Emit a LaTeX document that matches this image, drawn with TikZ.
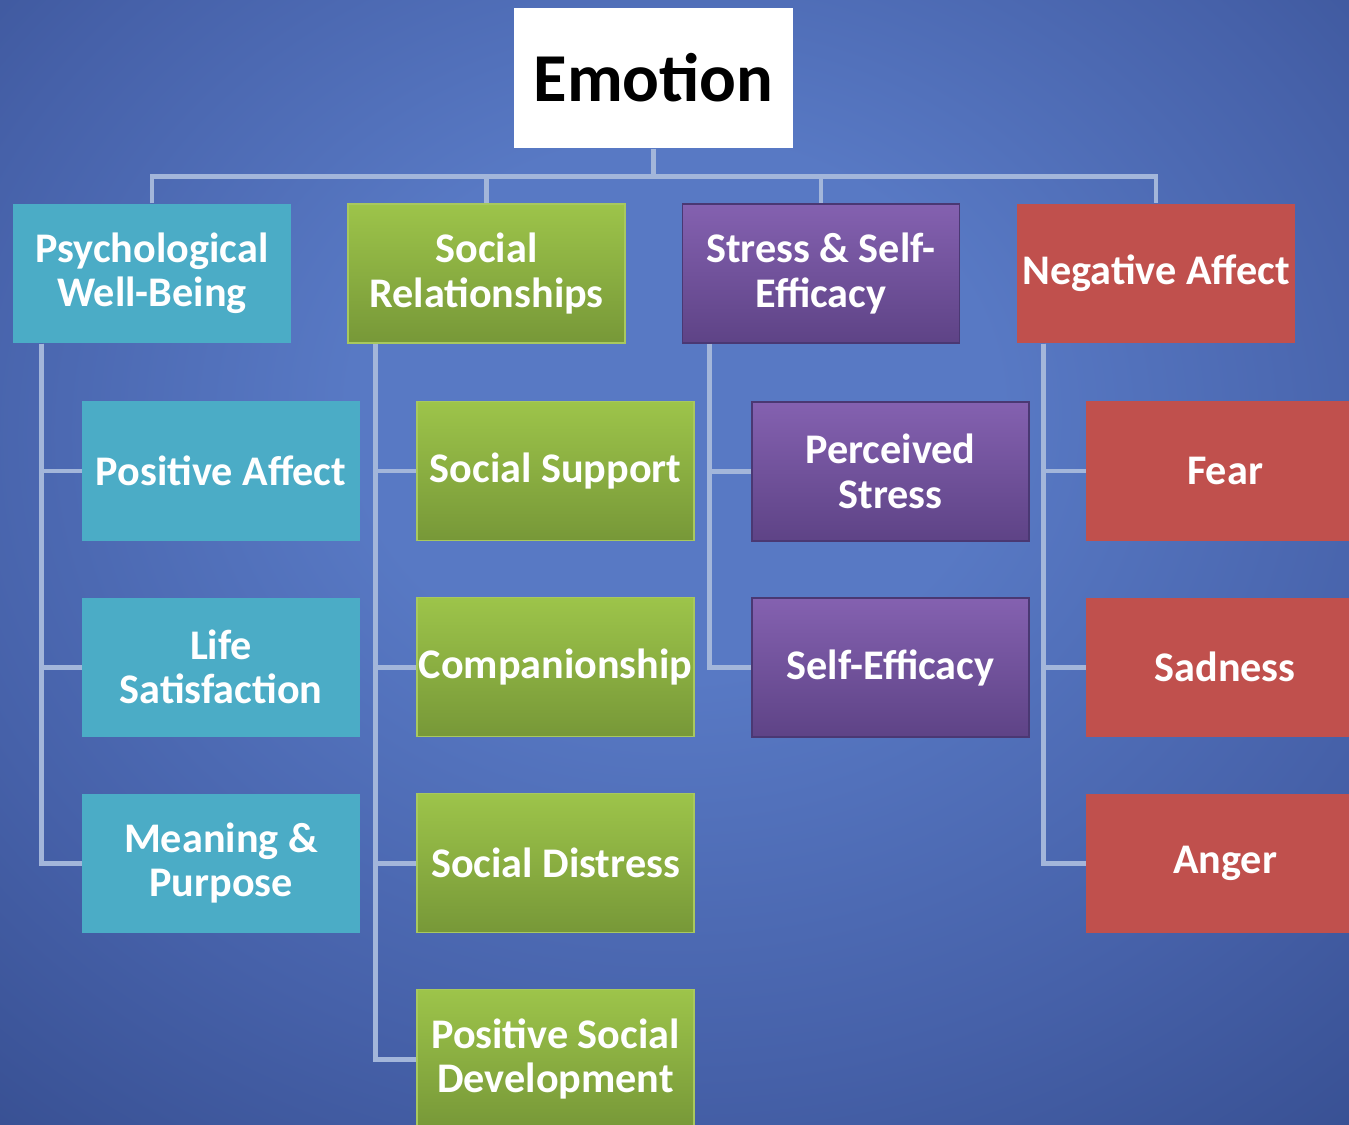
\documentclass[tikz,border=0pt]{standalone}
\usepackage{fontspec}
\setmainfont{Carlito}
\usetikzlibrary{positioning}

\definecolor{bgInner}{HTML}{5879C4}
\definecolor{bgMid}{HTML}{4661A9}
\definecolor{bgOuter}{HTML}{253975}
\definecolor{linkBlue}{HTML}{A3B6DA}
\definecolor{pwbTeal}{HTML}{4BACC6}
\definecolor{srTop}{HTML}{9DC44A}
\definecolor{srBottom}{HTML}{779838}
\definecolor{srEdge}{HTML}{A8C85E}
\definecolor{sseTop}{HTML}{8461B0}
\definecolor{sseBottom}{HTML}{5E4386}
\definecolor{sseEdge}{HTML}{4A3873}
\definecolor{naRed}{HTML}{C0504D}

\pgfdeclareradialshading{bgglow}{\pgfpoint{0bp}{8bp}}{color(0bp)=(bgInner); color(12bp)=(bgInner); color(28bp)=(bgMid); color(54bp)=(bgOuter); color(80bp)=(bgOuter)}

\begin{document}
\begin{tikzpicture}[x=0.01cm, y=-0.01cm,
    link/.style={draw=linkBlue, line width=1.4pt},
    box/.style={rectangle, inner sep=0pt, align=center, text=white, minimum width=2.77cm, minimum height=1.39cm, font=\bfseries\fontsize{12}{12.6}\selectfont},
    pwbbox/.style={box, fill=pwbTeal},
    srbox/.style={box, top color=srTop, bottom color=srBottom, draw=srEdge, line width=0.4pt},
    ssebox/.style={box, top color=sseTop, bottom color=sseBottom, draw=sseEdge, line width=0.5pt},
    nabox/.style={box, fill=naRed}]

    % background
    \useasboundingbox (0,0) rectangle (1349,1124);
    \shade[shading=bgglow] (0,0) rectangle (1349,1124);

    % root
    \node[rectangle, fill=white, minimum width=2.79cm, minimum height=1.40cm, font=\bfseries\fontsize{19.5}{20}\selectfont] (Emotion) at (653.5,78) {Emotion};

    % top level
    \node[pwbbox] (WellBeing) at (152,273.5) {Psychological\\Well-Being};
    \node[srbox] (Relations) at (486.5,273.5) {Social\\Relationships};
    \node[ssebox] (Stress) at (821,273.5) {Stress \& Self-\\Efficacy};
    \node[nabox] (NegAffect) at (1156,273.5) {Negative Affect};

    % psychological well-being
    \node[pwbbox, below=0.57cm of WellBeing, xshift=0.69cm] (PosAffect) {Positive Affect};
    \node[pwbbox, below=0.555cm of PosAffect] (LifeSat) {Life\\Satisfaction};
    \node[pwbbox, below=0.555cm of LifeSat] (Meaning) {Meaning \&\\Purpose};

    % social relationships
    \node[srbox, below=0.57cm of Relations, xshift=0.69cm] (Support) {Social Support};
    \node[srbox, below=0.555cm of Support] (Companion) {Companionship};
    \node[srbox, below=0.555cm of Companion] (Distress) {Social Distress};
    \node[srbox, below=0.555cm of Distress] (PosSocial) {Positive Social\\Development};

    % stress and self-efficacy
    \node[ssebox, below=0.57cm of Stress, xshift=0.695cm] (Perceived) {Perceived\\Stress};
    \node[ssebox, below=0.555cm of Perceived] (SelfEff) {Self-Efficacy};

    % negative affect
    \node[nabox, below=0.57cm of NegAffect, xshift=0.69cm] (Fear) {Fear};
    \node[nabox, below=0.555cm of Fear] (Sadness) {Sadness};
    \node[nabox, below=0.555cm of Sadness] (Anger) {Anger};

    % connectors
    \draw[link] (Emotion.south) -- ++(0,28) coordinate (hub);
    \draw[link] (WellBeing.north) |- (hub) -| (NegAffect.north);
    \draw[link] (Relations.north) -- (Relations.north |- hub);
    \draw[link] (Stress.north) -- (Stress.north |- hub);

    \foreach \leaf in {PosAffect, LifeSat, Meaning}
        \draw[link] ([xshift=0.29cm]WellBeing.south west) |- (\leaf.west);
    \foreach \leaf in {Support, Companion, Distress, PosSocial}
        \draw[link] ([xshift=0.28cm]Relations.south west) |- (\leaf.west);
    \foreach \leaf in {Perceived, SelfEff}
        \draw[link] ([xshift=0.28cm]Stress.south west) |- (\leaf.west);
    \foreach \leaf in {Fear, Sadness, Anger}
        \draw[link] ([xshift=0.27cm]NegAffect.south west) |- (\leaf.west);

\end{tikzpicture}
\end{document}
